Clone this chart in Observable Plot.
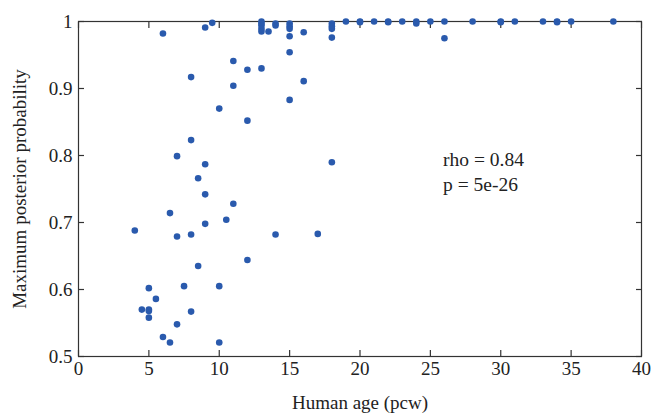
<!DOCTYPE html>
<html>
<head>
<meta charset="utf-8">
<script src="https://cdn.jsdelivr.net/npm/d3@7"></script>
<script src="https://cdn.jsdelivr.net/npm/@observablehq/plot@0.6"></script>
<style>
  html, body { margin: 0; padding: 0; background: #fff; }
  svg { display: block; }
</style>
</head>
<body>
<div id="chart"></div>
<script>
const ages = [6, 9, 9.5, 8, 11, 12, 13, 11, 10, 12,
  8, 7, 9, 8.5, 9, 11, 6.5, 10.5, 9, 4, 7, 8,
  12, 8.5, 7.5, 10, 5, 5.5, 4.5, 5, 5, 8, 5, 7, 6, 6.5, 10,
  17, 14, 18, 16, 15, 15,
  13, 13, 13, 13, 13, 13.5, 14, 14, 15, 15, 15, 15, 16,
  18, 18, 18, 18, 19, 20, 20, 21, 22, 22, 23, 24, 24, 25, 26, 26,
  28, 30, 30, 31, 33, 34, 34, 35, 38];
const probs = [0.982, 0.991, 0.998, 0.917, 0.941, 0.928, 0.930, 0.904, 0.870, 0.852,
  0.823, 0.799, 0.787, 0.766, 0.742, 0.728, 0.714, 0.704, 0.698, 0.688, 0.679, 0.682,
  0.644, 0.635, 0.605, 0.605, 0.602, 0.586, 0.570, 0.570, 0.568, 0.567, 0.558, 0.548, 0.529, 0.521, 0.521,
  0.683, 0.682, 0.790, 0.911, 0.883, 0.954,
  1.0, 0.997, 0.994, 0.989, 0.985, 0.985, 0.997, 0.994, 0.997, 0.993, 0.989, 0.978, 0.984,
  0.997, 0.993, 0.989, 0.976, 1.0, 1.0, 0.999, 1.0, 1.0, 0.999, 1.0, 1.0, 0.997, 1.0, 1.0, 0.975,
  1.0, 1.0, 0.999, 1.0, 1.0, 1.0, 0.999, 1.0, 1.0];
const xTicks = [0, 5, 10, 15, 20, 25, 30, 35, 40];
const yTicks = [0.5, 0.6, 0.7, 0.8, 0.9, 1];
const annotation = ["rho = 0.84\np = 5e-26"];
const annotationAt = {age: 25.9, prob: 0.778};

const points = ages.map((a, i) => ({age: a, prob: probs[i]}));
const axisColor = "#333";
const fmt = d => String(d);

const chart = Plot.plot({
  width: 655,
  height: 414,
  marginLeft: 78,
  marginRight: 14,
  marginTop: 21,
  marginBottom: 58,
  style: {fontFamily: "'Liberation Serif', 'Times New Roman', serif", fontSize: "19px", color: "#222", background: "#fff"},
  x: {domain: [0, 40]},
  y: {domain: [0.5, 1]},
  marks: [
    Plot.frame({stroke: axisColor, strokeWidth: 1.2}),
    Plot.axisX(xTicks, {anchor: "bottom", tickSize: -6, tickFormat: () => "", stroke: axisColor, strokeWidth: 1.2, label: null}),
    Plot.axisX(xTicks, {anchor: "top", tickSize: -6, tickFormat: () => "", stroke: axisColor, strokeWidth: 1.2, label: null}),
    Plot.axisY(yTicks, {anchor: "left", tickSize: -6, tickFormat: () => "", stroke: axisColor, strokeWidth: 1.2, label: null}),
    Plot.axisY(yTicks, {anchor: "right", tickSize: -6, tickFormat: () => "", stroke: axisColor, strokeWidth: 1.2, label: null}),
    Plot.axisX(xTicks, {anchor: "bottom", tickSize: 0, tickPadding: 5, tickFormat: fmt, fontSize: 19, fill: "#222",
      label: "Human age (pcw)", labelAnchor: "center", labelArrow: "none", labelOffset: 52}),
    Plot.axisY(yTicks, {anchor: "left", tickSize: 0, tickPadding: 6, tickFormat: fmt, fontSize: 19, fill: "#222",
      label: "Maximum posterior probability", labelAnchor: "center", labelArrow: "none", labelOffset: 66}),
    Plot.dot(points, {x: "age", y: "prob", r: 3.3, fill: "#2a5aad", stroke: "none"}),
    Plot.text(annotation, {x: () => annotationAt.age, y: () => annotationAt.prob, text: d => d,
      textAnchor: "start", lineAnchor: "middle", lineHeight: 1.28, fontSize: 19.5, fill: "#222"})
  ]
});
document.getElementById("chart").appendChild(chart);
</script>
</body>
</html>
